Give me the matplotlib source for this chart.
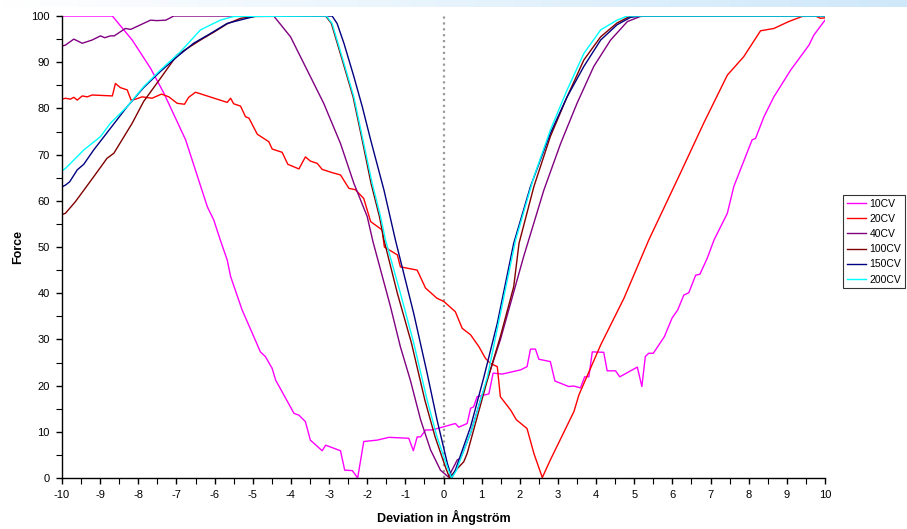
#Force vs deviation curves for several CV settings
import numpy as np
from matplotlib import pyplot as plt
from matplotlib.ticker import MultipleLocator

plt.rcParams['font.family'] = ['Liberation Sans', 'DejaVu Sans']
plt.rcParams['axes.unicode_minus'] = False

labels = ['10CV', '20CV', '40CV', '100CV', '150CV', '200CV']
colors = ['#ff00ff', '#ff0000', '#800080', '#800000', '#000080', '#00ffff']

x_10 = [-10, -8.68, -8.16, -7.68, -7.33, -6.76, -6.19, -6.02, -5.85, -5.67, -5.58, -5.28, -5.01,
        -4.80, -4.67, -4.49, -4.40, -3.92, -3.79, -3.62, -3.49, -3.18, -3.09, -2.70, -2.59, -2.39,
        -2.25, -2.09, -1.74, -1.43, -0.91, -0.79, -0.69, -0.60, -0.47, -0.30, 0.01, 0.31, 0.40,
        0.62, 0.71, 0.79, 0.88, 1.19, 1.30, 1.54, 2.02, 2.19, 2.28, 2.41, 2.50, 2.80, 2.92, 3.28,
        3.42, 3.59, 3.70, 3.81, 3.90, 4.20, 4.29, 4.51, 4.62, 5.08, 5.20, 5.29, 5.38, 5.50, 5.79,
        5.99, 6.14, 6.30, 6.43, 6.61, 6.72, 6.91, 7.09, 7.44, 7.61, 8.09, 8.18, 8.40, 8.66, 9.10,
        9.58, 9.71, 10.0]
y_10 = [100, 100, 94.8, 88.7, 83.3, 73.2, 58.7, 55.8, 51.5, 47.2, 43.6, 36.4, 31.3,
        27.3, 26.3, 23.7, 21.2, 14.0, 13.6, 12.2, 8.2, 5.9, 7.1, 5.9, 1.7, 1.6,
        0.0, 7.9, 8.2, 8.8, 8.6, 5.9, 8.9, 8.9, 10.4, 10.4, 11.1, 11.8, 11.0,
        11.8, 15.1, 15.4, 17.6, 18.2, 22.7, 22.5, 23.4, 24.1, 27.9, 27.9, 25.7, 25.2, 21.0, 19.8,
        19.9, 19.5, 21.9, 21.9, 27.3, 27.2, 23.2, 23.2, 21.9, 24.0, 19.8, 26.3, 27.0, 27.0, 30.6,
        34.6, 36.4, 39.6, 40.1, 43.9, 44.1, 47.5, 51.5, 57.3, 63.1, 73.2, 73.5, 78.2, 82.5, 88.3,
        93.7, 95.9, 99.1]

x_20 = [-10, -9.91, -9.78, -9.69, -9.60, -9.47, -9.34, -9.21, -8.68, -8.60, -8.47, -8.29, -8.19,
        -8.07, -7.90, -7.64, -7.39, -7.20, -6.98, -6.79, -6.68, -6.50, -5.67, -5.58, -5.50, -5.32,
        -5.19, -5.10, -4.88, -4.58, -4.49, -4.23, -4.08, -3.79, -3.62, -3.49, -3.31, -3.18, -2.92,
        -2.70, -2.48, -2.31, -2.09, -1.91, -1.61, -1.55, -1.21, -1.13, -0.69, -0.47, -0.17, 0.01,
        0.31, 0.49, 0.71, 0.93, 1.10, 1.23, 1.41, 1.49, 1.76, 1.91, 2.19, 2.37, 2.59, 2.80, 3.42,
        3.55, 4.12, 4.73, 5.38, 6.21, 6.82, 7.44, 7.87, 8.31, 8.66, 9.05, 9.40, 9.75, 9.88, 10.0]
y_20 = [82.0, 82.2, 82.0, 82.4, 81.8, 82.7, 82.5, 82.9, 82.7, 85.4, 84.5, 84.0, 81.8,
        82.0, 82.5, 82.2, 83.1, 82.5, 81.1, 80.9, 82.4, 83.5, 81.3, 82.2, 81.0, 80.5,
        78.2, 77.9, 74.4, 72.8, 71.2, 70.5, 67.9, 66.9, 69.5, 68.6, 68.1, 66.8, 66.1,
        65.6, 62.7, 62.4, 60.5, 55.5, 53.7, 50.0, 48.3, 45.7, 45.0, 41.1, 38.9, 38.2,
        36.0, 32.4, 31.0, 28.4, 25.9, 24.8, 24.1, 17.6, 14.7, 12.6, 10.7, 5.3, 0.1, 3.9, 14.4,
        18.0, 28.8, 38.9, 51.5, 66.0, 76.8, 87.2, 91.2, 96.8, 97.3, 98.8, 99.9, 100, 99.5, 99.6]

x_40 = [-10, -9.91, -9.69, -9.47, -9.21, -8.99, -8.88, -8.73, -8.63, -8.34, -8.20, -7.94, -7.68,
        -7.51, -7.28, -7.07, -4.45, -4.01, -3.75, -3.49, -3.14, -2.70, -2.35, -2.00, -1.85, -1.39,
        -1.13, -0.87, -0.60, -0.34, -0.08, 0.13, 0.36, 0.45, 0.71, 0.97, 1.49, 2.10, 2.63, 3.07,
        3.50, 3.94, 4.38, 4.82, 5.16, 5.33, 10]
y_40 = [93.5, 93.7, 95.0, 94.1, 94.8, 95.7, 95.3, 95.7, 95.7, 97.3, 97.1, 98.1, 99.1,
        99.0, 99.1, 100, 100, 95.5, 91.2, 86.9, 81.1, 72.4, 63.8, 56.6, 51.2, 37.1,
        28.4, 21.2, 12.6, 6.1, 1.7, 0.2, 3.9, 4.3, 9.7, 16.9, 29.9, 47.9, 62.3, 72.4,
        81.1, 89.1, 94.8, 98.8, 99.9, 100, 100]

x_100 = [-10, -9.91, -9.65, -9.17, -8.82, -8.64, -8.16, -7.86, -7.42, -6.98, -6.37, -6.02, -5.67,
         -5.32, -4.97, -3.09, -2.94, -2.85, -2.63, -2.37, -2.15, -1.90, -1.68, -1.56, -1.21, -0.84,
         -0.49, -0.22, 0.05, 0.16, 0.30, 0.53, 0.62, 0.79, 1.15, 1.49, 1.84, 1.98, 2.37, 2.80,
         3.24, 3.68, 4.12, 4.55, 4.90, 10]
y_100 = [57.0, 57.3, 59.8, 65.2, 69.2, 70.3, 76.8, 81.5, 86.5, 91.6, 94.8, 96.5, 98.3,
         99.5, 99.9, 100, 98.4, 95.9, 89.8, 82.5, 73.9, 63.8, 56.6, 51.5, 40.0, 29.2,
         16.9, 8.9, 2.4, 0.0, 1.5, 3.5, 5.3, 10.4, 21.2, 30.6, 41.4, 50.8, 63.1, 73.9,
         82.5, 90.5, 95.5, 98.5, 100, 100]

x_150 = [-10, -9.91, -9.80, -9.60, -9.43, -9.17, -8.73, -8.29, -7.86, -7.42, -6.98, -6.55, -6.11,
         -5.67, -5.15, -4.90, -2.92, -2.79, -2.61, -2.35, -2.13, -1.91, -1.56, -1.26, -0.78, -0.43,
         -0.17, 0.10, 0.22, 0.31, 0.71, 1.06, 1.41, 1.84, 2.28, 2.80, 3.24, 3.68, 4.12, 4.55,
         4.90, 5.16, 10]
y_150 = [63.0, 63.4, 64.1, 66.7, 67.9, 71.0, 75.7, 80.4, 84.5, 88.0, 91.2, 94.1, 96.2,
         98.4, 99.5, 100, 100, 98.4, 94.1, 86.9, 80.4, 73.2, 62.3, 51.5, 35.6, 22.7,
         12.6, 3.2, 0.0, 1.7, 11.1, 21.9, 33.5, 50.8, 63.1, 74.6, 82.5, 89.1, 94.8, 98.1,
         99.7, 100, 100]

x_200 = [-10, -9.91, -9.43, -8.99, -8.73, -8.29, -7.86, -7.42, -6.89, -6.37, -5.85, -5.50, -3.07,
         -2.92, -2.83, -2.61, -2.35, -2.13, -1.87, -1.65, -1.52, -1.13, -0.78, -0.43, -0.17, 0.10,
         0.21, 0.33, 0.75, 1.15, 1.89, 2.37, 2.80, 3.24, 3.68, 4.12, 4.55, 4.82, 10]
y_200 = [66.5, 67.0, 71.0, 73.9, 76.8, 80.4, 84.7, 88.3, 92.3, 97.0, 99.1, 99.9, 100,
         98.4, 95.9, 89.8, 82.5, 73.9, 63.8, 56.6, 51.5, 40.0, 29.2, 16.9, 8.9, 2.4,
         0.0, 1.5, 10.7, 21.9, 51.5, 65.2, 75.3, 84.0, 91.9, 97.0, 99.1, 100, 100]

xs = [x_10, x_20, x_40, x_100, x_150, x_200]
ys = [y_10, y_20, y_40, y_100, y_150, y_200]

fig = plt.figure(figsize=(9.07, 5.29), dpi=100)

#light blue band along the top edge
band = fig.add_axes([0, 1 - 7 / 529, 1, 7 / 529])
grad = np.linspace(0, 1, 256)
band_rgb = np.zeros((1, 256, 3))
band_rgb[0, :, 0] = 1 - grad * 0.19
band_rgb[0, :, 1] = 1 - grad * 0.09
band_rgb[0, :, 2] = 1 - grad * 0.02
band.imshow(band_rgb, aspect='auto', extent=[0, 1, 0, 1])
band.axis('off')

ax = fig.add_axes([62 / 907, 1 - 478 / 529, (825 - 62) / 907, (478 - 16) / 529])
ax.axvline(0, color='#9a9a9a', ls=':', lw=1.6, zorder=1)
for x, y, lab, c in zip(xs, ys, labels, colors):
    ax.plot(x, y, color=c, lw=1.0, label=lab, zorder=2)

ax.set_xlim(-10, 10)
ax.set_ylim(0, 100)
ax.xaxis.set_major_locator(MultipleLocator(1))
ax.xaxis.set_minor_locator(MultipleLocator(0.5))
ax.yaxis.set_major_locator(MultipleLocator(10))
ax.yaxis.set_minor_locator(MultipleLocator(5))
ax.spines['top'].set_visible(False)
ax.spines['right'].set_visible(False)
ax.spines['left'].set_linewidth(1.0)
ax.spines['bottom'].set_linewidth(1.0)
ax.tick_params(which='major', direction='out', length=4, width=1.0, labelsize=8, pad=5)
ax.tick_params(which='minor', direction='out', length=4, width=0.8)
ax.set_xlabel('Deviation in Ångström', fontsize=9, fontweight='bold')
ax.set_ylabel('Force', fontsize=9, fontweight='bold')
ax.xaxis.set_label_coords(0.5, -(517 - 478) / 462, transform=ax.transAxes)
ax.yaxis.set_label_coords(-(62 - 18) / 763, 0.5, transform=ax.transAxes)
ax.xaxis.label.set_va('center')
ax.yaxis.label.set_va('center')

leg = ax.legend(loc='upper left', bbox_to_anchor=(843 / 907, 1 - 195 / 529),
                bbox_transform=fig.transFigure, fontsize=7.5, frameon=True, fancybox=False,
                borderaxespad=0, borderpad=0.35, labelspacing=0.5, handlelength=1.9,
                handletextpad=0.3)
leg.get_frame().set_edgecolor('black')
leg.get_frame().set_linewidth(0.8)

fig.savefig('out.png', dpi=100)
